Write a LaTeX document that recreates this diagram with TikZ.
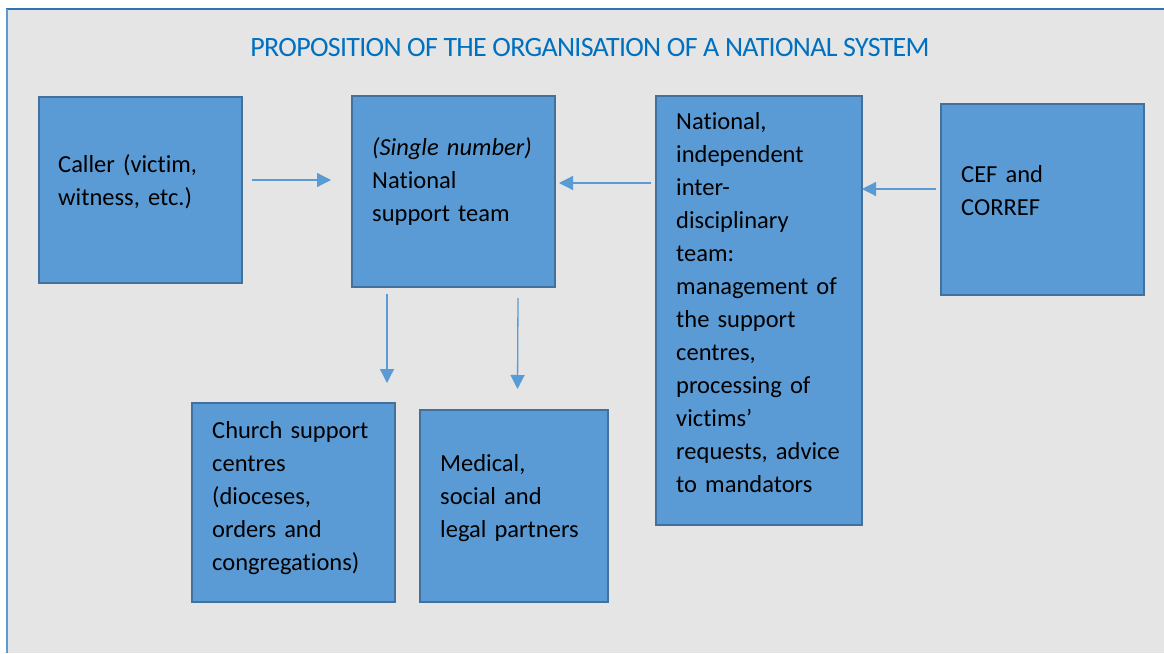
\documentclass[tikz,border=0pt]{standalone}
\usepackage{fontspec}
\setmainfont{Carlito}[Ligatures=NoCommon]
\usetikzlibrary{arrows.meta}
\definecolor{bg}{HTML}{E5E5E5}
\definecolor{boxfill}{HTML}{5B9BD5}
\definecolor{boxline}{HTML}{41719C}
\definecolor{titleblue}{HTML}{0070C0}
\definecolor{frametop}{HTML}{2E75B6}
\tikzset{
  box/.style={draw=boxline, fill=boxfill, line width=2.4pt, inner sep=0pt, outer sep=0pt, anchor=north west},
  txt/.style={font=\fontsize{24.5}{33}\selectfont, text=black, anchor=base west, inner sep=0pt, text width=#1, align=left},
  txt/.default=200pt,
  arr/.style={draw=boxfill, line width=1.3pt, -{Triangle[length=14pt,width=14pt]}},
}
\begin{document}
\begin{tikzpicture}[x=1pt,y=-1pt]
\useasboundingbox (0,0) rectangle (1164,653);
\fill[bg] (7,9) rectangle (1164,653);
\draw[frametop, line width=2pt] (6,9) -- (1164,9);
\draw[boxfill, line width=1.5pt] (7,9) -- (7,653);
\node[font=\fontsize{28}{34}\selectfont\addfontfeatures{LetterSpace=-2.5}, text=titleblue, anchor=base, inner sep=0pt] (title) at (590,56.5) {PROPOSITION OF THE ORGANISATION OF A NATIONAL SYSTEM};
% boxes
\node[box, minimum width=203pt, minimum height=186pt] (caller) at (39,97) {};
\node[box, minimum width=203pt, minimum height=191pt] (nst) at (352,96) {};
\node[box, minimum width=206pt, minimum height=429pt] (indep) at (656,96) {};
\node[box, minimum width=203pt, minimum height=191pt] (cef) at (941,104) {};
\node[box, minimum width=203pt, minimum height=199pt] (church) at (192,403) {};
\node[box, minimum width=188pt, minimum height=192pt] (med) at (420,410) {};
% texts
\node[txt] (callertxt) at (58,172) {Caller (victim,\\witness, etc.)};
\node[txt] (nsttxt) at (372,155) {\textit{(Single number)}\\National\\support team};
\node[txt] (indeptxt) at (676,129.5) {National,\\independent\\inter-\\disciplinary\\team:\\management of\\the support\\centres,\\processing of\\victims’\\requests, advice\\to mandators};
\node[txt] (ceftxt) at (961,182) {CEF and\\CORREF};
\node[txt] (churchtxt) at (212,438) {Church support\\centres\\(dioceses,\\orders and\\congregations)};
\node[txt] (medtxt) at (440,471) {Medical,\\social and\\legal partners};
% arrows
\draw[arr] ([xshift=10pt,yshift=10pt]caller.east) -- ([xshift=-21pt,yshift=11.5pt]nst.west);
\draw[arr] ([xshift=-5pt,yshift=127.5pt]indep.west) -- ([xshift=4pt,yshift=8.5pt]nst.east);
\draw[arr] ([xshift=-5pt,yshift=10.5pt]cef.west) -- ([xshift=0pt,yshift=121.5pt]indep.east);
\draw[arr] ([xshift=-66.5pt,yshift=-7pt]nst.south) -- ([xshift=93.5pt,yshift=20pt]church.north);
\draw[arr] ([xshift=64.5pt,yshift=-11pt]nst.south) -- ([xshift=3.5pt,yshift=21pt]med.north);
\end{tikzpicture}
\end{document}
